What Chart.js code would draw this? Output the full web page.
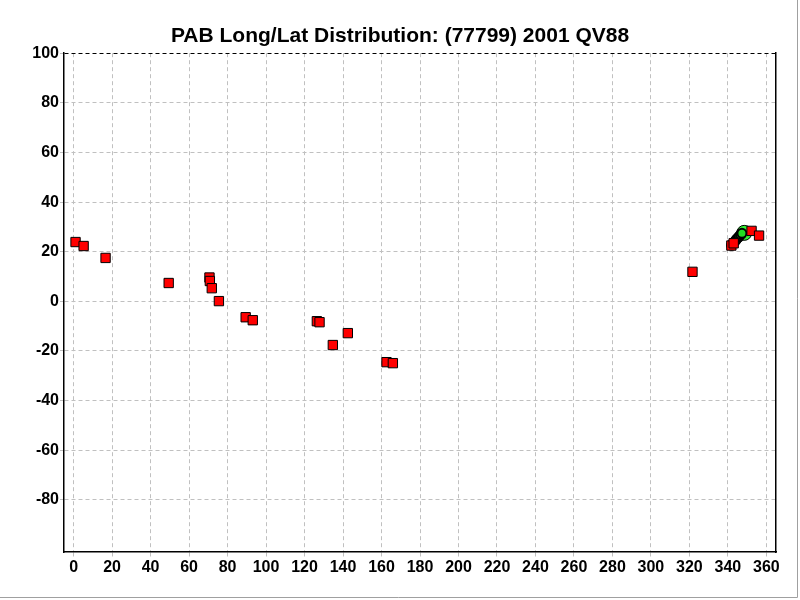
<!DOCTYPE html>
<html>
<head>
<meta charset="utf-8">
<script src="https://cdn.jsdelivr.net/npm/chart.js@4"></script>
<style>
  body { margin: 0; background: #fff; }
  #wrap { width: 800px; height: 600px; }
</style>
</head>
<body>
<div id="wrap"><canvas id="pab"></canvas></div>
<script>
// observations (red squares)
const redLon = [1.0, 5.2, 16.6, 49.4, 70.6, 70.8, 71.8, 75.5, 89.4, 93.1, 126.4, 127.8, 134.7, 142.5, 162.6, 165.9, 321.6, 341.8, 343.0, 352.3, 356.2];
const redLat = [23.9, 22.3, 17.5, 7.4, 9.6, 8.2, 5.3, 0.1, -6.4, -7.6, -8.0, -8.4, -17.6, -12.8, -24.5, -24.9, 11.9, 22.5, 23.4, 28.4, 26.5];

// predicted positions (small green, black rims)
const predLon = [341.9, 342.6, 343.2, 343.9, 344.5, 345.3, 345.9, 346.6, 347.3];
const predLat = [22.6, 23.3, 23.9, 24.4, 25.1, 25.7, 26.2, 26.9, 27.4];

// current position
const nowLon = [348.5];
const nowLat = [27.6];

const yTicks = [-80, -60, -40, -20, 0, 20, 40, 60, 80, 100];
const xTicks = [0, 20, 40, 60, 80, 100, 120, 140, 160, 180, 200, 220, 240, 260, 280, 300, 320, 340, 360];

const pts = (xs, ys) => xs.map((x, i) => ({ x: x, y: ys[i] }));

const font16 = { family: 'Arial, "Liberation Sans", sans-serif', size: 16, weight: 'bold' };

// thin grey window edge on the right and bottom
const edge = {
    id: 'edge',
    afterDraw(chart) {
        const c = chart.ctx;
        c.save();
        c.strokeStyle = '#a0a0a0';
        c.lineWidth = 1;
        c.beginPath();
        c.moveTo(chart.width - 2.5, 0);
        c.lineTo(chart.width - 2.5, chart.height - 2.5);
        c.lineTo(0, chart.height - 2.5);
        c.stroke();
        c.restore();
    }
};

new Chart(document.getElementById('pab'), {
    type: 'scatter',
    data: {
        datasets: [
            {
                data: pts(redLon, redLat),
                pointStyle: 'rect',
                pointRadius: 6.6,
                backgroundColor: '#ff0000',
                borderColor: '#000000',
                borderWidth: 1
            },
            {
                data: pts(predLon, predLat),
                pointStyle: 'circle',
                pointRadius: 4.5,
                backgroundColor: '#22dd22',
                borderColor: '#000000',
                borderWidth: 2
            },
            {
                data: pts(nowLon, nowLat),
                pointStyle: 'circle',
                pointRadius: 7.5,
                backgroundColor: '#33ee33',
                borderColor: '#000000',
                borderWidth: 1
            }
        ]
    },
    plugins: [edge],
    options: {
        responsive: true,
        maintainAspectRatio: false,
        animation: false,
        layout: { padding: { left: 0, right: 0, bottom: 4 } },
        plugins: {
            legend: { display: false },
            tooltip: { enabled: false },
            title: {
                display: true,
                text: 'PAB Long/Lat Distribution: (77799) 2001 QV88',
                color: '#000',
                font: { family: 'Arial, "Liberation Sans", sans-serif', size: 21, weight: 'bold' },
                padding: { top: 24, bottom: 4 }
            }
        },
        scales: {
            x: {
                type: 'linear',
                min: -5,
                max: 365,
                afterBuildTicks: (s) => { s.ticks = xTicks.map(v => ({ value: v })); },
                afterFit: (s) => { s.height = 44; },
                border: { color: '#000', width: 1.5, dash: [4, 3] },
                grid: {
                    color: '#c0c0c0',
                    tickBorderDash: [4, 3],
                    tickLength: 5,
                    tickColor: '#c0c0c0'
                },
                ticks: { color: '#000', padding: 1, maxRotation: 0, font: font16 }
            },
            y: {
                type: 'linear',
                min: -101,
                max: 100,
                afterBuildTicks: (s) => { s.ticks = yTicks.map(v => ({ value: v })); },
                afterFit: (s) => { s.width = 64; },
                border: { color: '#000', width: 1.5, dash: [4, 3] },
                grid: {
                    color: (ctx) => ctx.tick && ctx.tick.value === 100 ? '#000' : '#c0c0c0',
                    tickBorderDash: [4, 3],
                    tickLength: 4,
                    tickColor: '#c0c0c0'
                },
                ticks: { color: '#000', padding: 1, font: font16 }
            },
            yRight: {
                type: 'linear',
                position: 'right',
                min: -101,
                max: 100,
                afterFit: (s) => { s.width = 24; },
                border: { color: '#000', width: 1.5 },
                grid: { display: false },
                ticks: { display: false }
            }
        }
    }
});
</script>
</body>
</html>
